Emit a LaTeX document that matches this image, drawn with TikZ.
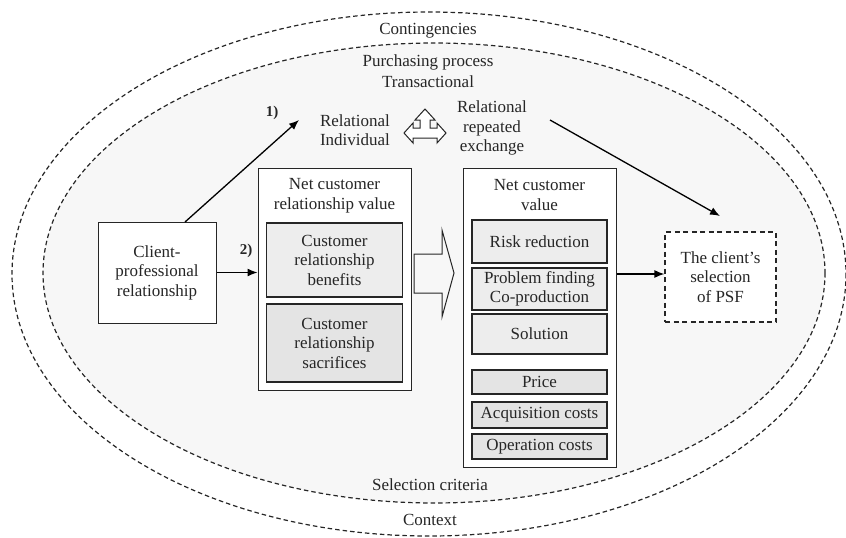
\documentclass[tikz,border=0pt]{standalone}
\usepackage{fontspec}
\setmainfont{Liberation Serif}
\usetikzlibrary{arrows.meta}
\definecolor{ink}{HTML}{262626}
\definecolor{bgfill}{HTML}{F7F7F7}
\definecolor{benefit}{HTML}{EDEDED}
\definecolor{cost}{HTML}{E4E4E4}
\begin{document}
\begin{tikzpicture}[x=1pt,y=-1pt,
  every node/.style={font=\fontsize{17}{19.5}\selectfont, text=ink},
  ring/.style={draw=ink, line width=1.2pt, dash pattern=on 4.5pt off 3pt},
  plainbox/.style={draw=ink, line width=1pt, fill=white, align=center, inner sep=0pt},
  frame/.style={draw=ink, line width=1pt, fill=white, inner sep=0pt},
  benefitbox/.style={draw=ink, line width=1.6pt, fill=benefit, align=center, inner sep=0pt},
  costbox/.style={draw=ink, line width=1.6pt, fill=cost, align=center, inner sep=0pt},
  dashbox/.style={draw=ink, line width=1.2pt, dash pattern=on 5pt off 3.5pt, fill=white, align=center, inner sep=0pt},
  lbl/.style={align=center, inner sep=0pt},
  numlbl/.style={inner sep=0pt, font=\bfseries\fontsize{15}{17}\selectfont},
  conn/.style={draw=black, line width=1.3pt, -{Latex[length=10pt,width=8pt]}}
]
\useasboundingbox (0,0) rectangle (846,538);
\begin{scope}
\clip (0,0) rectangle (846,538);
% nested context rings
\draw[ring] (429,274) ellipse [x radius=417, y radius=262];
\draw[ring, fill=bgfill] (434,273) ellipse [x radius=391, y radius=230];
\end{scope}

% ring labels
\node[lbl] (cont) at (428,31) {Contingencies};
\node[lbl] (purch) at (428,62) {Purchasing process};
\node[lbl] (trans) at (428,82) {Transactional};
\node[lbl] (selc) at (430,485) {Selection criteria};
\node[lbl] (ctx) at (430,520) {Context};

% relationship types
\node[lbl] (relind) at (355,130) {Relational\\Individual};
\node[lbl] (relrep) at (492,128) {Relational\\repeated\\exchange};

% three-way hollow arrow between the relationship types
\draw[ink, line width=1pt, fill=white]
  (404,133) -- (413,123) -- (413,128) -- (420,128) -- (420,120) -- (415,120)
  -- (425,109) -- (435,120) -- (430,120) -- (430,128) -- (437,128) -- (437,123)
  -- (446,133) -- (437,143) -- (437,138) -- (413,138) -- (413,143) -- cycle;

% client-professional relationship
\node[plainbox, minimum width=118pt, minimum height=101pt] (client) at (157,272.5)
  {Client-\\professional\\relationship};

% net customer relationship value
\node[frame, minimum width=153pt, minimum height=222pt] (ncrv) at (334.5,279) {};
\node[lbl] (ncrvt) at (334.5,195.5) {Net customer\\relationship value};
\node[benefitbox, minimum width=136pt, minimum height=74pt] (benef) at (334.5,260)
  {Customer\\relationship\\benefits};
\node[costbox, minimum width=136pt, minimum height=78pt] (sacr) at (334.5,343)
  {Customer\\relationship\\sacrifices};

% hollow transfer arrow
\draw[ink, line width=1pt]
  (414,254) -- (442,254) -- (442,230) -- (454,273) -- (442,317) -- (442,293) -- (414,293) -- cycle;

% net customer value
\node[frame, minimum width=153pt, minimum height=299pt] (ncv) at (539.5,317.5) {};
\node[lbl] (ncvt) at (539.5,195) {Net customer\\value};
\node[benefitbox, minimum width=135pt, minimum height=43pt] (risk) at (539.5,241.5) {Risk reduction};
\node[benefitbox, minimum width=135pt, minimum height=42pt] (prob) at (539.5,289) {Problem finding\\Co-production};
\node[benefitbox, minimum width=135pt, minimum height=40pt] (sol) at (539.5,334) {Solution};
\node[costbox, minimum width=135pt, minimum height=24pt] (price) at (539.5,382) {Price};
\node[costbox, minimum width=135pt, minimum height=26pt] (acq) at (539.5,415) {Acquisition costs};
\node[costbox, minimum width=135pt, minimum height=25pt] (oper) at (539.5,446.5) {Operation costs};

% outcome
\node[dashbox, minimum width=111pt, minimum height=90pt] (psf) at (720.5,277)
  {The client’s\\selection\\of PSF};

% connectors
\coordinate (c1start) at (185,222);
\coordinate (c1end) at (299,120);
\coordinate (c3start) at (550,120);
\coordinate (c3end) at (720,216);
\coordinate (c4level) at (640,274);
\draw[conn] (c1start) -- (c1end);
\node[numlbl] (n1) at (272,113) {1)};
\draw[conn] (client.east) -- (ncrv.west |- client.east);
\node[numlbl] (n2) at (246,251) {2)};
\draw[conn] (c3start) -- (c3end);
\draw[conn] (ncv.east |- c4level) -- (psf.west |- c4level);
\end{tikzpicture}
\end{document}
